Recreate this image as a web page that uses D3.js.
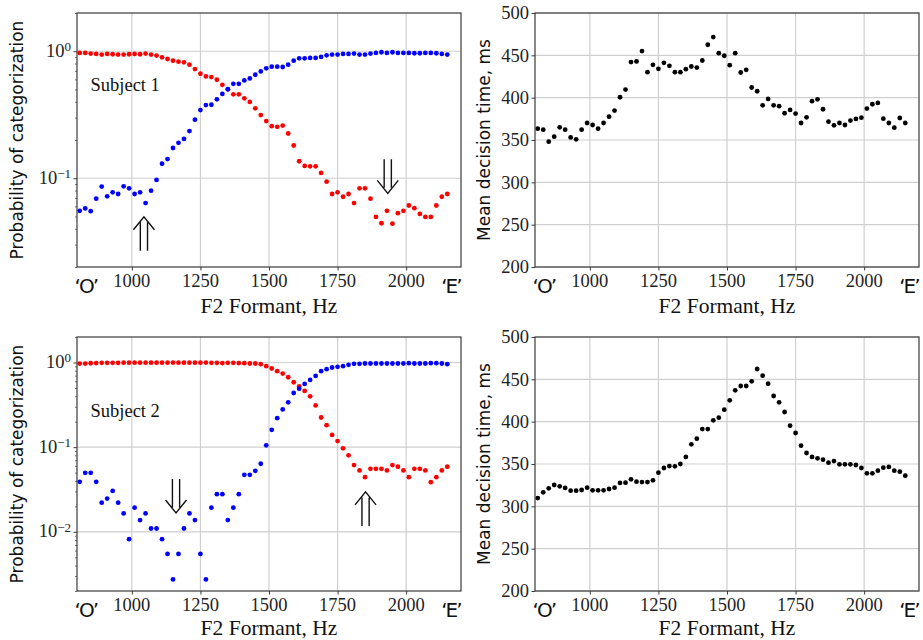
<!DOCTYPE html>
<html>
<head>
<meta charset="utf-8">
<script src="https://cdn.jsdelivr.net/npm/d3@7"></script>
<style>
  body { margin: 0; background: #fff; }
  svg { display: block; }
</style>
</head>
<body>
<div id="chart"></div>
<script>
// stimulus F2 values, Hz
const freqs = [
  810, 830, 850, 870, 890, 910, 930, 950, 970, 990,
  1010, 1030, 1050, 1070, 1090, 1110, 1130, 1150, 1170, 1190,
  1210, 1230, 1250, 1270, 1290, 1310, 1330, 1350, 1370, 1390,
  1410, 1430, 1450, 1470, 1490, 1510, 1530, 1550, 1570, 1590,
  1610, 1630, 1650, 1670, 1690, 1710, 1730, 1750, 1770, 1790,
  1810, 1830, 1850, 1870, 1890, 1910, 1930, 1950, 1970, 1990,
  2010, 2030, 2050, 2070, 2090, 2110, 2130, 2150
];

// subject 1
const s1Red = [
  0.970, 0.970, 0.958, 0.952, 0.941, 0.952, 0.947, 0.941, 0.941, 0.947,
  0.952, 0.947, 0.958, 0.941, 0.924, 0.896, 0.869, 0.843, 0.828, 0.818,
  0.784, 0.724, 0.665, 0.633, 0.626, 0.596, 0.544, 0.502, 0.458, 0.458,
  0.426, 0.399, 0.355, 0.314, 0.282, 0.257, 0.254, 0.260, 0.225, 0.181,
  0.136, 0.125, 0.124, 0.124, 0.110, 0.094, 0.0751, 0.0774, 0.0715, 0.0751,
  0.0637, 0.0833, 0.0833, 0.0690, 0.0496, 0.0442, 0.0554, 0.0439, 0.0531, 0.0554,
  0.0610, 0.0581, 0.0524, 0.0496, 0.0496, 0.0610, 0.0715, 0.0751
];
const s1Blue = [
  0.0554, 0.0578, 0.0550, 0.0690, 0.0859, 0.0720, 0.0774, 0.0751, 0.0864, 0.0833,
  0.0751, 0.0774, 0.0637, 0.0798, 0.0970, 0.130, 0.1415, 0.173, 0.190, 0.204,
  0.235, 0.289, 0.344, 0.377, 0.379, 0.418, 0.461, 0.502, 0.554, 0.554,
  0.589, 0.611, 0.653, 0.694, 0.733, 0.756, 0.756, 0.751, 0.784, 0.843,
  0.880, 0.880, 0.885, 0.885, 0.902, 0.929, 0.941, 0.941, 0.952, 0.952,
  0.958, 0.941, 0.941, 0.958, 0.970, 0.982, 0.970, 0.982, 0.970, 0.970,
  0.970, 0.964, 0.964, 0.970, 0.970, 0.964, 0.952, 0.941
];
const s1Time = [
  363.4, 362.2, 348.0, 353.9, 365.0, 362.2, 353.1, 350.8, 362.2, 370.1,
  367.7, 363.4, 370.1, 377.6, 384.7, 400.5, 409.6, 442.0, 442.8, 455.0,
  430.1, 438.8, 434.1, 441.2, 437.6, 430.1, 430.1, 433.7, 436.8, 435.6,
  443.9, 462.5, 471.6, 452.6, 449.5, 438.4, 452.6, 429.7, 432.9, 412.0,
  407.6, 391.0, 398.5, 391.0, 389.9, 381.6, 385.5, 381.2, 370.1, 376.8,
  395.8, 398.1, 386.3, 371.7, 367.3, 370.1, 367.7, 372.9, 374.9, 376.4,
  387.1, 392.2, 393.8, 375.2, 370.1, 364.6, 376.0, 370.1
];

// subject 2
const s2Red = [
  0.970, 0.970, 0.980, 0.985, 0.990, 0.990, 0.990, 0.990, 0.995, 0.995,
  0.995, 0.995, 0.995, 0.995, 0.995, 0.995, 0.995, 0.998, 0.995, 0.995,
  0.995, 0.995, 0.995, 0.998, 0.990, 0.990, 0.985, 0.990, 0.990, 0.985,
  0.982, 0.973, 0.973, 0.955, 0.905, 0.849, 0.789, 0.740, 0.669, 0.584,
  0.523, 0.461, 0.398, 0.311, 0.224, 0.182, 0.1395, 0.118, 0.0969, 0.0800,
  0.0614, 0.0531, 0.0442, 0.0555, 0.0555, 0.0555, 0.0531, 0.0614, 0.0587, 0.0531,
  0.0442, 0.0555, 0.0555, 0.0531, 0.0386, 0.0442, 0.0531, 0.0587
];
const s2Blue = [
  0.0389, 0.0498, 0.0498, 0.0389, 0.0221, 0.0247, 0.0304, 0.0221, 0.0165, 0.00818,
  0.0193, 0.01376, 0.0165, 0.01095, 0.01095, 0.00818, 0.00548, 0.00274, 0.00548, 0.01095,
  0.0165, 0.01376, 0.00548, 0.00274, 0.0193, 0.0278, 0.0278, 0.01376, 0.0193, 0.0278,
  0.0471, 0.0471, 0.0526, 0.0637, 0.105, 0.160, 0.220, 0.279, 0.338, 0.436,
  0.491, 0.558, 0.622, 0.694, 0.789, 0.833, 0.872, 0.888, 0.905, 0.938,
  0.964, 0.964, 0.973, 0.973, 0.973, 0.973, 0.973, 0.973, 0.973, 0.973,
  0.982, 0.973, 0.973, 0.973, 0.982, 0.982, 0.973, 0.955
];
const s2Time = [
  309.8, 316.5, 321.3, 325.2, 323.6, 321.7, 318.5, 318.5, 319.3, 322.0,
  318.9, 318.9, 318.9, 320.5, 322.0, 327.6, 328.0, 331.9, 329.1, 328.7,
  328.7, 330.7, 339.8, 345.3, 347.6, 347.2, 350.0, 358.3, 373.2, 379.9,
  391.3, 391.3, 401.6, 404.7, 414.2, 425.2, 437.0, 442.1, 442.1, 447.6,
  462.2, 454.3, 444.9, 430.3, 422.8, 411.4, 395.3, 386.6, 371.7, 363.0,
  358.3, 356.7, 355.1, 351.6, 353.5, 349.6, 349.6, 349.6, 348.8, 345.3,
  339.0, 339.0, 342.1, 345.7, 346.5, 342.1, 340.9, 336.2
];

const xTicks = [1000, 1250, 1500, 1750, 2000];
const timeTicks = [200, 250, 300, 350, 400, 450, 500];
const endLabels = [{f: 832, text: "‘O’"}, {f: 2163, text: "‘E’"}];

// arrow marks: F2 position, tip value, direction
const arrows1 = [{f: 1044, v: 0.0497, dir: "up"}, {f: 1933, v: 0.076, dir: "down"}];
const arrows2 = [{f: 1161, v: 0.0167, dir: "down"}, {f: 1852, v: 0.0296, dir: "up"}];

const serif = "'Liberation Serif', 'DejaVu Serif', serif";
const sans = "'DejaVu Sans', 'Liberation Sans', sans-serif";
const pw = 384, ph = 254;

const svg = d3.select("#chart").append("svg")
  .attr("width", 923)
  .attr("height", 640);

const panels = [
  {left: 77, top: 13, log: true, domain: [0.02, 2], majors: [1, 0.1],
   series: [{v: s1Red, c: "#ff0000"}, {v: s1Blue, c: "#0000ff"}],
   ylabel: "Probability of categorization", ylabelX: -54, xlabelY: 46,
   subject: "Subject 1", subjectY: 78, arrows: arrows1},
  {left: 535, top: 13, log: false, domain: [200, 500], majors: timeTicks,
   series: [{v: s1Time, c: "#000000"}],
   ylabel: "Mean decision time, ms", ylabelX: -45.5, xlabelY: 46},
  {left: 77, top: 337, log: true, domain: [0.002, 2], majors: [1, 0.1, 0.01],
   series: [{v: s2Red, c: "#ff0000"}, {v: s2Blue, c: "#0000ff"}],
   ylabel: "Probability of categorization", ylabelX: -54, xlabelY: 44,
   subject: "Subject 2", subjectY: 80, arrows: arrows2},
  {left: 535, top: 337, log: false, domain: [200, 500], majors: timeTicks,
   series: [{v: s2Time, c: "#000000"}],
   ylabel: "Mean decision time, ms", ylabelX: -45.5, xlabelY: 44}
];

panels.forEach(drawPanel);

function drawPanel(p) {
  const g = svg.append("g").attr("transform", `translate(${p.left},${p.top})`);
  const x = d3.scaleLinear().domain([800, 2200]).range([0, pw]);
  const y = (p.log ? d3.scaleLog() : d3.scaleLinear()).domain(p.domain).range([ph, 0]);

  // grid
  g.append("g").selectAll("line").data(xTicks).enter().append("line")
    .attr("x1", d => x(d)).attr("x2", d => x(d))
    .attr("y1", 0).attr("y2", ph)
    .style("stroke", "#cfcfcf").style("stroke-width", 1.2);
  g.append("g").selectAll("line").data(p.majors).enter().append("line")
    .attr("x1", 0).attr("x2", pw)
    .attr("y1", d => y(d)).attr("y2", d => y(d))
    .style("stroke", "#cfcfcf").style("stroke-width", 1.2);

  // dots
  p.series.forEach(s => {
    g.append("g").selectAll("circle")
      .data(freqs.map((f, i) => [f, s.v[i]])).enter()
      .append("circle")
      .attr("cx", d => x(d[0]))
      .attr("cy", d => y(d[1]))
      .attr("r", 2.4)
      .style("fill", s.c);
  });

  // frame
  g.append("rect").attr("width", pw).attr("height", ph)
    .style("fill", "none").style("stroke", "#3a3a3a").style("stroke-width", 1.2);

  // ticks
  const xAxis = g.append("g").attr("transform", `translate(0,${ph})`)
    .call(d3.axisBottom(x).tickValues(xTicks).tickSize(3.5).tickFormat(""));
  xAxis.select(".domain").remove();
  xAxis.selectAll("line").style("stroke", "#3a3a3a");

  const yAxis = g.append("g")
    .call(d3.axisLeft(y).tickValues(p.majors).tickSize(3.5).tickFormat(""));
  yAxis.select(".domain").remove();
  yAxis.selectAll("line").style("stroke", "#3a3a3a");
  if (p.log) {
    const minors = y.ticks().filter(t => !p.majors.some(m => Math.abs(m - t) < 1e-9));
    const yMinor = g.append("g")
      .call(d3.axisLeft(y).tickValues(minors).tickSize(2).tickFormat(""));
    yMinor.select(".domain").remove();
    yMinor.selectAll("line").style("stroke", "#3a3a3a").style("stroke-width", 0.7);
  }

  // x tick labels
  g.append("g").selectAll("text").data(xTicks).enter().append("text")
    .attr("x", d => x(d)).attr("y", ph + 20)
    .attr("text-anchor", "middle")
    .style("font-family", serif).style("font-size", "18.5px").style("fill", "#222")
    .text(d => d);
  g.append("g").selectAll("text").data(endLabels).enter().append("text")
    .attr("x", d => x(d.f)).attr("y", ph + 25.5)
    .attr("text-anchor", "middle")
    .style("font-family", sans).style("font-size", "20px")
    .style("letter-spacing", "-2px").style("fill", "#111")
    .text(d => d.text);

  // y tick labels
  const yl = g.append("g").selectAll("text").data(p.majors).enter().append("text")
    .attr("x", -6).attr("y", d => y(d))
    .attr("text-anchor", "end")
    .style("font-family", serif).style("font-size", "18.5px").style("fill", "#222");
  if (p.log) {
    yl.attr("dy", "0.3em");
    yl.append("tspan").text("10");
    yl.append("tspan").attr("dy", "-0.45em").style("font-size", "13px")
      .text(d => {
        const e = Math.round(Math.log10(d));
        return e < 0 ? "\u2212" + (-e) : String(e);
      });
  } else {
    yl.attr("dy", "0.34em").text(d => d);
  }

  // axis labels
  g.append("text")
    .attr("transform", "rotate(-90)")
    .attr("x", -ph / 2).attr("y", p.ylabelX)
    .attr("text-anchor", "middle")
    .style("font-family", sans).style("font-size", "17px").style("fill", "#111")
    .text(p.ylabel);
  g.append("text")
    .attr("x", pw / 2).attr("y", ph + p.xlabelY)
    .attr("text-anchor", "middle")
    .style("font-family", serif).style("font-size", "21.5px").style("fill", "#111")
    .text("F2 Formant, Hz");

  if (p.subject) {
    g.append("text")
      .attr("x", 13.5).attr("y", p.subjectY)
      .style("font-family", serif).style("font-size", "18.5px").style("fill", "#111")
      .text(p.subject);
  }

  // double arrows
  if (p.arrows) {
    g.append("g").selectAll("path").data(p.arrows).enter().append("path")
      .attr("d", d => {
        const cx = x(d.f), ty = y(d.v), s = d.dir === "up" ? 1 : -1;
        return `M${cx - 10.5},${ty + s * 13} L${cx},${ty} L${cx + 10.5},${ty + s * 13}` +
          ` M${cx - 3.6},${ty + s * 5.5} L${cx - 3.6},${ty + s * 34}` +
          ` M${cx + 3.6},${ty + s * 5.5} L${cx + 3.6},${ty + s * 34}`;
      })
      .style("fill", "none").style("stroke", "#111").style("stroke-width", 1.4);
  }
}
</script>
</body>
</html>
